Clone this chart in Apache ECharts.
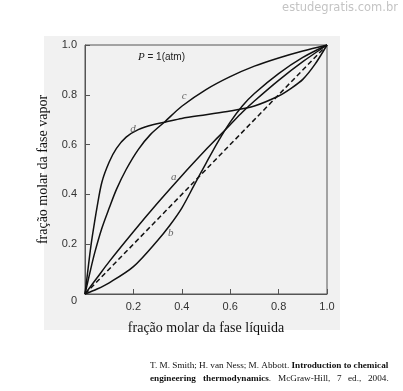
<!DOCTYPE html>
<html><head><meta charset="utf-8">
<script src="https://cdn.jsdelivr.net/npm/echarts@6/dist/echarts.min.js"></script>
<style>html,body{margin:0;padding:0;background:#fff}#c{width:403px;height:391px}</style>
</head><body><div id="c"></div>
<script>
// ---- data ----
const aX = [0, 0.05, 0.1, 0.2, 0.3, 0.4, 0.5, 0.55, 0.6, 0.65, 0.7, 0.8, 0.9, 1];
const aY = [0, 0.065, 0.13, 0.25, 0.365, 0.475, 0.58, 0.63, 0.68, 0.73, 0.775, 0.858, 0.933, 1];
const bX = [0, 0.05, 0.1, 0.2, 0.3, 0.35, 0.4, 0.45, 0.5, 0.55, 0.6, 0.65, 0.7, 0.8, 0.9, 1];
const bY = [0, 0.02, 0.045, 0.11, 0.215, 0.275, 0.345, 0.435, 0.525, 0.612, 0.69, 0.755, 0.805, 0.885, 0.95, 1];
const cX = [0, 0.02, 0.04, 0.07, 0.1, 0.13, 0.17, 0.22, 0.27, 0.33, 0.4, 0.5, 0.6, 0.7, 0.8, 0.9, 1];
const cY = [0, 0.085, 0.165, 0.265, 0.345, 0.42, 0.5, 0.58, 0.64, 0.692, 0.754, 0.821, 0.873, 0.915, 0.948, 0.976, 1];
const dX = [0, 0.01, 0.02, 0.03, 0.05, 0.07, 0.1, 0.13, 0.17, 0.22, 0.28, 0.33, 0.4, 0.5, 0.6, 0.7, 0.8, 0.85, 0.9, 0.95, 1];
const dY = [0, 0.08, 0.16, 0.23, 0.35, 0.45, 0.53, 0.585, 0.63, 0.66, 0.68, 0.69, 0.705, 0.72, 0.735, 0.755, 0.795, 0.825, 0.862, 0.922, 1];
const diagX = [0, 1];
const diagY = [0, 1];
const curveNames = ['a', 'b', 'c', 'd'];
const labelX = [0.367, 0.354, 0.41, 0.198];
const labelY = [0.468, 0.244, 0.796, 0.664];
const xTitle = 'fração molar da fase líquida';
const yTitle = 'fração molar da fase vapor';
const watermark = 'estudegratis.com.br';
const citeLine1 = ['T. M. Smith; H. van Ness; M. Abbott. ', 'Introduction to chemical'];
const citeLine2 = [['engineering', 'bold'], ['thermodynamics', 'bold', '.'], ['McGraw-Hill,', 'normal'], ['7', 'normal'], ['ed.,', 'normal'], ['2004.', 'normal']];

const zip = (xs, ys) => xs.map((x, i) => [x, ys[i]]);
const chart = echarts.init(document.getElementById('c'), null, {renderer: 'canvas'});
const curveStyle = {color: '#111', width: 1.5};
const mkLine = (name, xs, ys) => ({
  name, type: 'line', data: zip(xs, ys), showSymbol: false, symbol: 'none',
  smooth: 0.3, lineStyle: curveStyle, z: 3, silent: true
});

// justify second citation line between x=150 and x=389
const CF = 9.2, SERIF = 'Liberation Serif';
const ctx = document.createElement('canvas').getContext('2d');
const meas = (t, w) => { ctx.font = w + ' ' + CF + 'px "' + SERIF + '"'; return ctx.measureText(t).width; };
const widths = citeLine2.map(w => meas(w[0], w[1]) + (w[2] ? meas(w[2], 'normal') : 0));
const total = widths.reduce((s, v) => s + v, 0);
const gap = (389 - 150 - total) / (citeLine2.length - 1);
let cx = 150;
const line2Graphics = citeLine2.map((w, i) => {
  const g = {type: 'text', left: Math.round(cx), top: 374, silent: true,
    style: {text: w[2] ? '{b|' + w[0] + '}' + w[2] : (w[1] === 'bold' ? '{b|' + w[0] + '}' : w[0]),
      fill: '#111', fontSize: CF, fontFamily: SERIF,
      rich: {b: {fontWeight: 'bold', fontSize: CF, fontFamily: SERIF, fill: '#111'}}}};
  cx += widths[i] + gap;
  return g;
});

chart.setOption({
  animation: false,
  backgroundColor: '#fff',
  grid: {left: 85, right: 76, top: 45, bottom: 97, show: true, borderColor: '#555', borderWidth: 1, backgroundColor: 'transparent'},
  xAxis: {
    type: 'value', min: 0, max: 1, interval: 0.2,
    axisLine: {show: true, lineStyle: {color: '#555'}},
    axisTick: {show: true, inside: true, length: 5, lineStyle: {color: '#555'}},
    splitLine: {show: false},
    axisLabel: {color: '#333', fontSize: 11, fontFamily: 'Liberation Sans', margin: 7,
      formatter: v => v === 0 ? '' : v.toFixed(1)},
    name: xTitle, nameLocation: 'middle', nameGap: 27,
    nameTextStyle: {fontFamily: 'Liberation Serif', fontSize: 14, color: '#111'}
  },
  yAxis: {
    type: 'value', min: 0, max: 1, interval: 0.2,
    axisLine: {show: true, lineStyle: {color: '#555'}},
    axisTick: {show: true, inside: true, length: 5, lineStyle: {color: '#555'}},
    splitLine: {show: false},
    axisLabel: {color: '#333', fontSize: 11, fontFamily: 'Liberation Sans', margin: 8,
      formatter: v => v === 0 ? '{z|0}' : v.toFixed(1),
      rich: {z: {fontSize: 11, fontFamily: 'Liberation Sans', color: '#333', padding: [13, 0, 0, 0]}}},
    name: yTitle, nameLocation: 'middle', nameGap: 30, nameRotate: 90,
    nameTextStyle: {fontFamily: 'Liberation Serif', fontSize: 14, color: '#111'}
  },
  graphic: [
    {type: 'rect', z: -10, silent: true, shape: {x: 44, y: 36, width: 296, height: 294}, style: {fill: '#f1f1f1'}},
    {type: 'text', right: 5, top: 2, silent: true,
      style: {text: watermark, fill: '#c4c4c4', fontSize: 11.5, fontFamily: 'DejaVu Sans'}},
    {type: 'text', left: 138, top: 52, silent: true, z: 10,
      style: {text: '{i|P} = 1(atm)', fill: '#222', fontSize: 10, fontFamily: 'Liberation Sans',
        rich: {i: {fontStyle: 'italic', fontFamily: 'Liberation Serif', fontSize: 11, fill: '#222'}}}},
    {type: 'text', left: 150, top: 361, silent: true,
      style: {text: citeLine1[0] + '{b|' + citeLine1[1] + '}', fill: '#111',
        fontSize: CF, fontFamily: SERIF,
        rich: {b: {fontWeight: 'bold', fontSize: CF, fontFamily: SERIF, fill: '#111'}}}}
  ].concat(line2Graphics),
  series: [
    mkLine('a', aX, aY),
    mkLine('b', bX, bY),
    mkLine('c', cX, cY),
    mkLine('d', dX, dY),
    {name: 'diagonal', type: 'line', data: zip(diagX, diagY), showSymbol: false, symbol: 'none',
      lineStyle: {color: '#111', width: 1.5, type: [5, 3]}, z: 2, silent: true},
    {name: 'labels', type: 'scatter', symbolSize: 0, silent: true, z: 5,
      data: curveNames.map((n, i) => ({value: [labelX[i], labelY[i]], name: n})),
      label: {show: true, position: 'inside', formatter: p => p.name,
        fontFamily: 'Liberation Serif', fontStyle: 'italic', fontSize: 11, color: '#444'}}
  ]
});
</script></body></html>
